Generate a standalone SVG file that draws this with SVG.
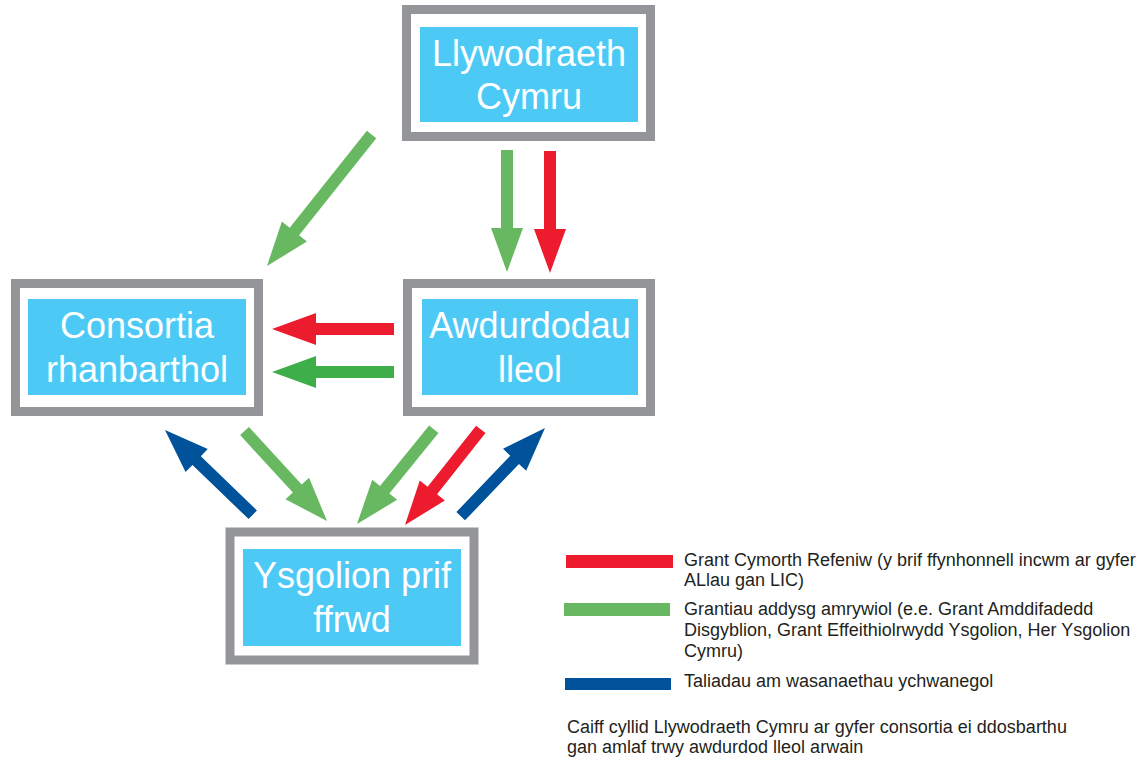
<svg xmlns="http://www.w3.org/2000/svg" width="1146" height="759" viewBox="0 0 1146 759">
<style>
.frame{fill:#ffffff;stroke:#939598;stroke-width:9}
.box{fill:#4dc9f6}
.lbl{font-family:"Liberation Sans",Arial,sans-serif;font-size:36px;fill:#ffffff;text-anchor:middle}
.leg{font-family:"Liberation Sans",Arial,sans-serif;font-size:18px;fill:#231f20}
.red{fill:#ec1c2e}
.green{fill:#68b862}
.dgreen{fill:#3dae49}
.blue{fill:#00529b}
</style>
<defs>
<path id="a122" d="M0,0 L-44,-16 L-44,-6 L-122,-6 L-122,6 L-44,6 L-44,16 Z"/>
<path id="a168" d="M0,0 L-44,-16 L-44,-6 L-168,-6 L-168,6 L-44,6 L-44,16 Z"/>
</defs>
<rect width="1146" height="759" fill="#ffffff"/>
<g id="llywodraeth">
<rect class="frame" x="406.5" y="9.5" width="244" height="127"/>
<rect class="box" x="420" y="27" width="218" height="95"/>
<text class="lbl" x="529" y="66">Llywodraeth</text>
<text class="lbl" x="529" y="109">Cymru</text>
</g>
<g id="consortia">
<rect class="frame" x="15.5" y="283.5" width="243" height="128"/>
<rect class="box" x="28" y="299" width="218" height="96"/>
<text class="lbl" x="137" y="338">Consortia</text>
<text class="lbl" x="137" y="382">rhanbarthol</text>
</g>
<g id="awdurdodau">
<rect class="frame" x="407.5" y="283.5" width="243" height="128"/>
<rect class="box" x="422" y="299" width="216" height="96"/>
<text class="lbl" x="530" y="338">Awdurdodau</text>
<text class="lbl" x="530" y="382">lleol</text>
</g>
<g id="ysgolion">
<rect class="frame" x="230" y="532" width="244" height="128"/>
<rect class="box" x="243" y="549" width="218" height="97"/>
<text class="lbl" x="352" y="588">Ysgolion prif</text>
<text class="lbl" x="352" y="632">ffrwd</text>
</g>
<g id="connectors">
<use href="#a168" class="green" transform="translate(267,266) rotate(128.5)"/>
<use href="#a122" class="green" transform="translate(507,272) rotate(90)"/>
<use href="#a122" class="red" transform="translate(550,273) rotate(90)"/>
<use href="#a122" class="red" transform="translate(272,329) rotate(180)"/>
<use href="#a122" class="dgreen" transform="translate(272,372) rotate(180)"/>
<use href="#a122" class="blue" transform="translate(165,430) rotate(-136)"/>
<use href="#a122" class="green" transform="translate(327,521) rotate(47.5)"/>
<use href="#a122" class="green" transform="translate(357,524) rotate(129)"/>
<use href="#a122" class="red" transform="translate(405,525) rotate(128.4)"/>
<use href="#a122" class="blue" transform="translate(545,428) rotate(-46.3)"/>
</g>
<g id="legend">
<rect class="red" x="566" y="555" width="107" height="13"/>
<rect class="green" x="564" y="603" width="106" height="13"/>
<rect class="blue" x="565" y="678" width="106" height="12"/>
<text class="leg" x="684" y="566">Grant Cymorth Refeniw (y brif ffynhonnell incwm ar gyfer</text>
<text class="leg" x="684" y="586">ALlau gan LIC)</text>
<text class="leg" x="684" y="615">Grantiau addysg amrywiol (e.e. Grant Amddifadedd</text>
<text class="leg" x="684" y="636">Disgyblion, Grant Effeithiolrwydd Ysgolion, Her Ysgolion</text>
<text class="leg" x="684" y="657">Cymru)</text>
<text class="leg" x="684" y="687">Taliadau am wasanaethau ychwanegol</text>
<text class="leg" x="567" y="733">Caiff cyllid Llywodraeth Cymru ar gyfer consortia ei ddosbarthu</text>
<text class="leg" x="567" y="753">gan amlaf trwy awdurdod lleol arwain</text>
</g>
</svg>
